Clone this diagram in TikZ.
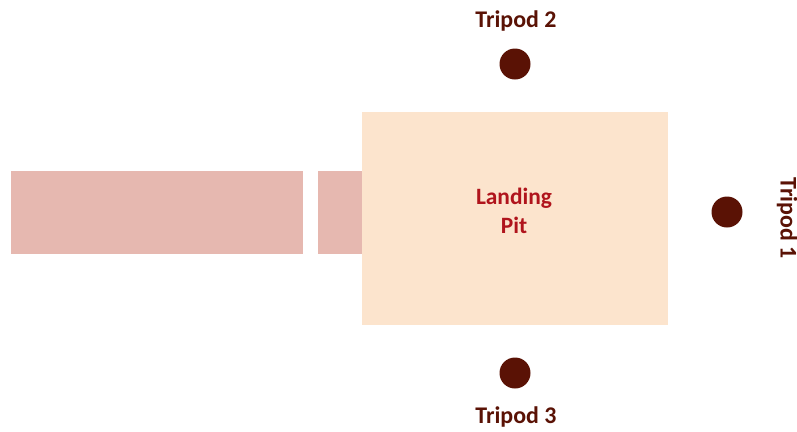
\documentclass[tikz,border=0pt]{standalone}
\usepackage{fontspec}
\setmainfont{Carlito}
\definecolor{runway}{HTML}{E6B8B0}
\definecolor{pitfill}{HTML}{FCE4CD}
\definecolor{dotc}{HTML}{5A1205}
\definecolor{pittext}{HTML}{B0141C}
\tikzset{
  runwaybox/.style={fill=runway, draw=none},
  tripod/.style={circle, fill=dotc, draw=none, minimum size=31bp, inner sep=0pt},
  tlabel/.style={text=dotc, font=\fontsize{24}{27}\selectfont\bfseries, inner sep=0pt},
}
\begin{document}
\begin{tikzpicture}[x=1bp, y=-1bp]
\useasboundingbox (0,0) rectangle (797,431);
\fill[white] (0,0) rectangle (797,431);
\fill[runwaybox] (11,171) rectangle (303,254);
\fill[runwaybox] (318,171) rectangle (362,254);
\node[fill=pitfill, minimum width=306bp, minimum height=213bp, inner sep=0pt, anchor=north west] (pit) at (362,112) {};
\node[text=pittext, font=\fontsize{23.5}{29}\selectfont\bfseries, align=center] (pitlabel) at (514,211) {Landing\\Pit};
\node[tripod] (t2) at (515,64) {};
\node[tripod] (t1) at (727,212) {};
\node[tripod] (t3) at (515,373) {};
\node[tlabel] (l2) at (516,21) {Tripod 2};
\node[tlabel] (l3) at (516,417) {Tripod 3};
\node[tlabel, rotate=-90] (l1) at (787,218) {Tripod 1};
\end{tikzpicture}
\end{document}
